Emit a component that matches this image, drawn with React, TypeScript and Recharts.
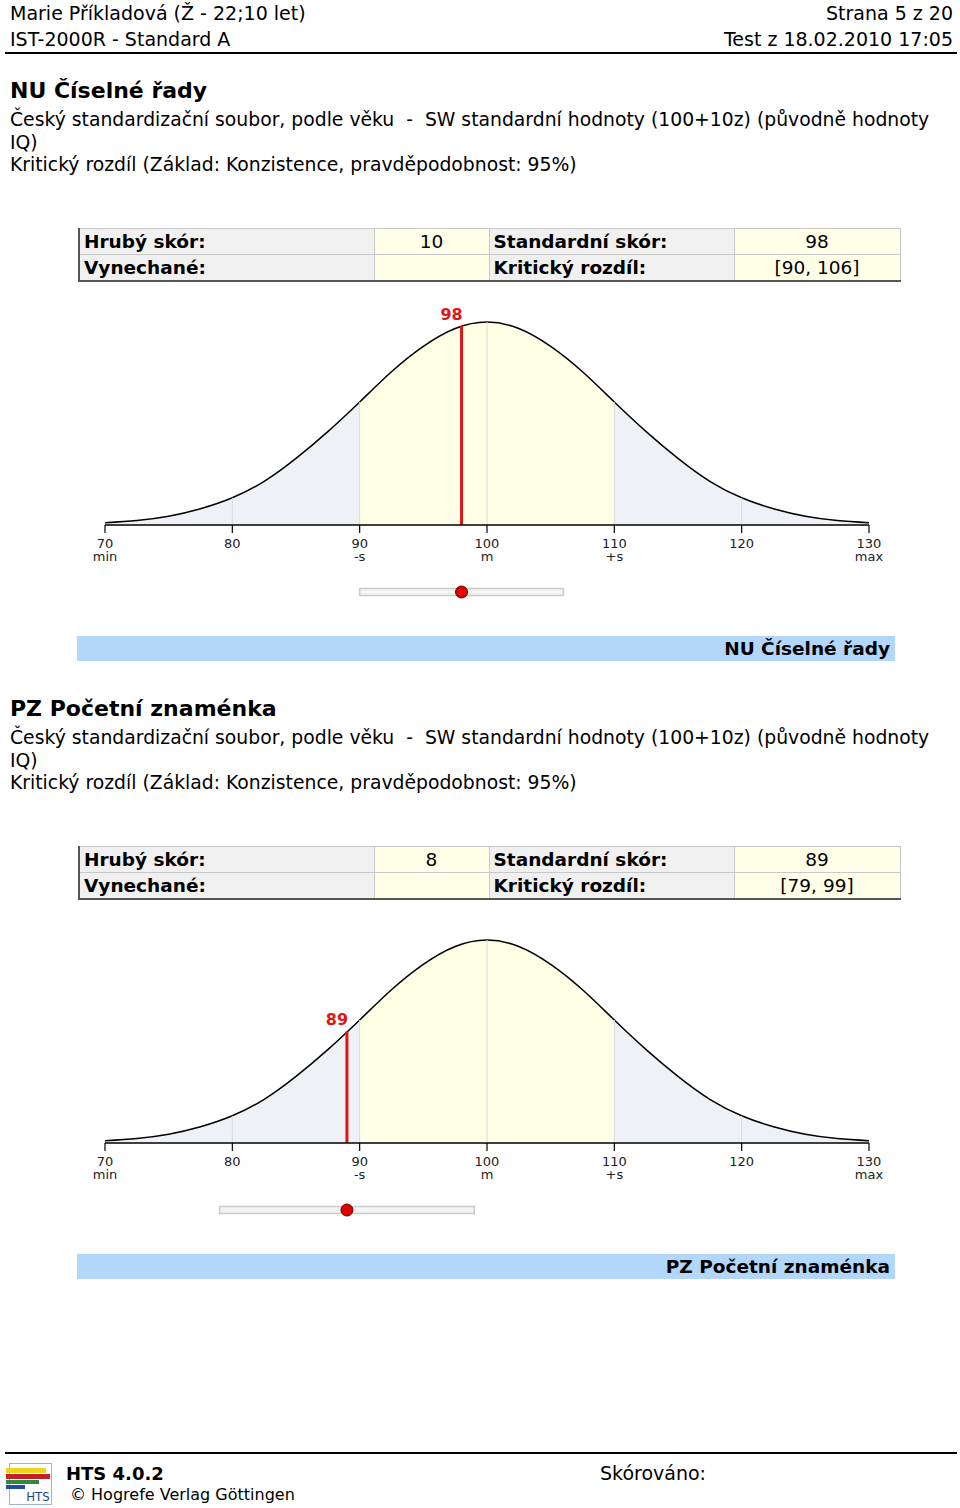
import React from 'react';
import { ComposedChart, Area, Scatter, XAxis, YAxis, ReferenceLine, ReferenceArea } from 'recharts';

const FONT = '"DejaVu Sans", Verdana, sans-serif';

// ---- data ----
const curveX = [70, 72.5, 75, 77.5, 80, 82.5, 85, 87.5, 90, 92.5, 95, 97.5, 100, 102.5, 105, 107.5, 110, 112.5, 115, 117.5, 120, 122.5, 125, 127.5, 130];
const curveHeights = [0.011, 0.022, 0.043, 0.08, 0.134, 0.215, 0.328, 0.46, 0.606, 0.755, 0.88, 0.968, 1.0, 0.968, 0.88, 0.755, 0.606, 0.46, 0.328, 0.215, 0.134, 0.08, 0.043, 0.022, 0.011];
const axisTicks = [70, 80, 90, 100, 110, 120, 130];
const axisSubLabels = ['min', '', '-s', 'm', '+s', '', 'max'];
const gridLineXs = [80, 90, 100, 110, 120];
const bandLow = 90;
const bandHigh = 110;

const sectionTitles = ['NU Číselné řady', 'PZ Početní znaménka'];
const rawScores = ['10', '8'];
const standardScores = [98, 89];
const scoreCurveTops = [0.98, 0.55];
const criticalLow = [90, 79];
const criticalHigh = [106, 99];

const subtitleLines = [
  'Český standardizační soubor, podle věku  -  SW standardní hodnoty (100+10z) (původně hodnoty',
  'IQ)',
  'Kritický rozdíl (Základ: Konzistence, pravděpodobnost: 95%)',
];

const curveData = curveX.map((x, i) => ({ x, h: curveHeights[i] }));
const xMin = curveX[0];
const xMax = curveX[curveX.length - 1];
function heightAt(x: number) {
  const i = curveX.indexOf(x);
  return i >= 0 ? curveHeights[i] : 0;
}

const CHART_MARGIN = { top: 32, right: 91, bottom: 15, left: 105 };
const RED = '#e01515';

const AxisTick = (props: any) => {
  const { x, y, payload, index } = props;
  const i = axisTicks.indexOf(payload.value);
  const sub = axisSubLabels[i >= 0 ? i : index] || '';
  return (
    <text x={x} y={y} textAnchor="middle" fontFamily={FONT} fontSize={13} fill="#222">
      <tspan x={x} dy={13}>{payload.value}</tspan>
      {sub ? <tspan x={x} dy={12.5}>{sub}</tspan> : null}
    </text>
  );
};

function BellChart({ idx, top }: { idx: number; top: number }) {
  const score = standardScores[idx];
  const gid = `bandFill${idx}`;
  const f1 = (bandLow - xMin) / (xMax - xMin);
  const f2 = (bandHigh - xMin) / (xMax - xMin);
  return (
    <div style={{ position: 'absolute', left: 0, top, width: 960, height: 290 }}>
      <ComposedChart width={960} height={290} data={curveData} margin={CHART_MARGIN}>
        <defs>
          <linearGradient id={gid} x1="0" y1="0" x2="1" y2="0">
            <stop offset={0} stopColor="#eef2f7" />
            <stop offset={f1} stopColor="#eef2f7" />
            <stop offset={f1} stopColor="#ffffe6" />
            <stop offset={f2} stopColor="#ffffe6" />
            <stop offset={f2} stopColor="#eef2f7" />
            <stop offset={1} stopColor="#eef2f7" />
          </linearGradient>
        </defs>
        <XAxis
          dataKey="x"
          type="number"
          domain={[xMin, xMax]}
          ticks={axisTicks}
          interval={0}
          tick={<AxisTick />}
          tickSize={8}
          tickMargin={2}
          height={40}
          axisLine={{ stroke: '#000', strokeWidth: 1.5 }}
          tickLine={{ stroke: '#000', strokeWidth: 1.2 }}
        />
        <YAxis type="number" domain={[0, 1]} hide />
        <Area
          dataKey="h"
          type="natural"
          stroke="#000"
          strokeWidth={1.5}
          fill={`url(#${gid})`}
          fillOpacity={1}
          dot={false}
          activeDot={false}
          isAnimationActive={false}
        />
        {gridLineXs.map((gx) => (
          <ReferenceLine
            key={gx}
            segment={[{ x: gx, y: 0 }, { x: gx, y: heightAt(gx) }]}
            stroke="#d9d9d9"
            strokeWidth={1}
          />
        ))}
        <ReferenceLine
          segment={[{ x: score, y: 0 }, { x: score, y: scoreCurveTops[idx] }]}
          stroke={RED}
          strokeWidth={3}
          label={(p: any) => {
            const vb = p.viewBox || {};
            return (
              <text
                x={(vb.x ?? 0) - 10}
                y={(vb.y ?? 0) - 6}
                textAnchor="middle"
                fontFamily={FONT}
                fontSize={16}
                fontWeight="bold"
                fill={RED}
              >
                {score}
              </text>
            );
          }}
        />
      </ComposedChart>
    </div>
  );
}

const SliderDot = (p: any) => (
  <circle cx={p.cx} cy={p.cy} r={6} fill="#e00000" stroke="#6a0000" strokeWidth={1} />
);

function SliderChart({ idx, top }: { idx: number; top: number }) {
  const score = standardScores[idx];
  return (
    <div style={{ position: 'absolute', left: 0, top, width: 960, height: 20 }}>
      <ComposedChart
        width={960}
        height={20}
        margin={{ top: 0, right: CHART_MARGIN.right, bottom: 0, left: CHART_MARGIN.left }}
      >
        <XAxis dataKey="x" type="number" domain={[xMin, xMax]} hide allowDataOverflow />
        <YAxis dataKey="y" type="number" domain={[0, 1]} hide allowDataOverflow />
        <ReferenceArea
          x1={criticalLow[idx]}
          x2={criticalHigh[idx]}
          y1={0.325}
          y2={0.675}
          fill="#f4f4f4"
          fillOpacity={1}
          stroke="#c9c9c9"
          strokeWidth={1.5}
          ifOverflow="visible"
        />
        <Scatter data={[{ x: score, y: 0.5 }]} dataKey="y" shape={<SliderDot />} isAnimationActive={false} />
      </ComposedChart>
    </div>
  );
}

const abs = (style: React.CSSProperties): React.CSSProperties => ({ position: 'absolute', fontFamily: FONT, color: '#000', ...style });

function ScoreTable({ idx, top }: { idx: number; top: number }) {
  const labelCell: React.CSSProperties = {
    background: '#f0f0f0',
    border: '1px solid #c8c8c8',
    fontWeight: 'bold',
    padding: '0 0 0 4px',
    height: 25,
    whiteSpace: 'nowrap',
  };
  const valueCell: React.CSSProperties = {
    background: '#fffee6',
    border: '1px solid #c8c8c8',
    textAlign: 'center',
    padding: 0,
    height: 25,
    whiteSpace: 'nowrap',
  };
  return (
    <table
      style={{
        position: 'absolute',
        left: 78,
        top,
        width: 821,
        borderCollapse: 'collapse',
        tableLayout: 'fixed',
        fontFamily: FONT,
        fontSize: 18.5,
        lineHeight: '25px',
        borderTop: '1px solid #999',
        borderLeft: '2px solid #555',
        borderBottom: '2px solid #555',
        borderRight: '1px solid #aaa',
      }}
    >
      <colgroup>
        <col style={{ width: 295 }} />
        <col style={{ width: 115 }} />
        <col style={{ width: 245 }} />
        <col style={{ width: 166 }} />
      </colgroup>
      <tbody>
        <tr>
          <td style={labelCell}>Hrubý skór:</td>
          <td style={valueCell}>{rawScores[idx]}</td>
          <td style={labelCell}>Standardní skór:</td>
          <td style={valueCell}>{standardScores[idx]}</td>
        </tr>
        <tr>
          <td style={labelCell}>Vynechané:</td>
          <td style={valueCell}></td>
          <td style={labelCell}>Kritický rozdíl:</td>
          <td style={valueCell}>{`[${criticalLow[idx]}, ${criticalHigh[idx]}]`}</td>
        </tr>
      </tbody>
    </table>
  );
}

function Section({ idx, offset }: { idx: number; offset: number }) {
  return (
    <>
      <div style={abs({ left: 10, top: 78 + offset, fontSize: 22, fontWeight: 'bold', lineHeight: '26px', whiteSpace: 'nowrap' })}>
        {sectionTitles[idx]}
      </div>
      {subtitleLines.map((line, i) => (
        <div
          key={i}
          style={abs({ left: 10, top: 109 + offset + i * 22.5, fontSize: 18.8, lineHeight: '22.5px', whiteSpace: 'pre' })}
        >
          {line}
        </div>
      ))}
      <ScoreTable idx={idx} top={228 + offset} />
      <BellChart idx={idx} top={290 + offset} />
      <SliderChart idx={idx} top={582 + offset} />
      <div
        style={abs({
          left: 77,
          top: 636 + offset,
          width: 818,
          height: 25,
          background: '#b3d7fa',
          fontSize: 18.5,
          fontWeight: 'bold',
          lineHeight: '25px',
          textAlign: 'right',
          paddingRight: 5,
          boxSizing: 'border-box',
          whiteSpace: 'nowrap',
        })}
      >
        {sectionTitles[idx]}
      </div>
    </>
  );
}

function Logo() {
  return (
    <div style={{ position: 'absolute', left: 0, top: 1460, width: 60, height: 48 }}>
      <div style={{ position: 'absolute', left: 9, top: 3, width: 43, height: 42, border: '1px solid #9db4cf', boxSizing: 'border-box' }} />
      <div style={{ position: 'absolute', left: 6, top: 8, width: 40, height: 5, background: '#f2d31b' }} />
      <div style={{ position: 'absolute', left: 6, top: 14, width: 44, height: 5, background: '#c4202c' }} />
      <div style={{ position: 'absolute', left: 6, top: 20, width: 33, height: 4, background: '#2e8b3e' }} />
      <div style={{ position: 'absolute', left: 6, top: 25, width: 19, height: 4, background: '#1f4f9c' }} />
      <div
        style={{
          position: 'absolute',
          left: 24,
          top: 29,
          width: 28,
          fontFamily: '"DejaVu Sans Condensed", "DejaVu Sans", sans-serif',
          fontSize: 13,
          lineHeight: '15px',
          color: '#1a3f8f',
          textAlign: 'center',
        }}
      >
        HTS
      </div>
    </div>
  );
}

export default function App() {
  return (
    <div style={{ position: 'absolute', left: 0, top: 0, width: 960, height: 1508, background: '#fff', overflow: 'hidden' }}>
      <div style={abs({ left: 10, top: 0, fontSize: 19, lineHeight: '26px', whiteSpace: 'nowrap' })}>Marie Příkladová (Ž - 22;10 let)</div>
      <div style={abs({ left: 10, top: 26, fontSize: 19, lineHeight: '26px', whiteSpace: 'nowrap' })}>IST-2000R - Standard A</div>
      <div style={abs({ right: 7, top: 0, fontSize: 19, lineHeight: '26px', whiteSpace: 'nowrap', textAlign: 'right' })}>Strana 5 z 20</div>
      <div style={abs({ right: 7, top: 26, fontSize: 19, lineHeight: '26px', whiteSpace: 'nowrap', textAlign: 'right' })}>Test z 18.02.2010 17:05</div>
      <div style={{ position: 'absolute', left: 5, top: 52, width: 952, height: 2, background: '#000' }} />

      <Section idx={0} offset={0} />
      <Section idx={1} offset={618} />

      <div style={{ position: 'absolute', left: 5, top: 1452, width: 952, height: 2, background: '#000' }} />
      <Logo />
      <div style={abs({ left: 66, top: 1462, fontSize: 18, fontWeight: 'bold', lineHeight: '24px', whiteSpace: 'nowrap' })}>HTS 4.0.2</div>
      <div style={abs({ left: 70, top: 1484, fontSize: 16, lineHeight: '22px', whiteSpace: 'nowrap' })}>© Hogrefe Verlag Göttingen</div>
      <div style={abs({ left: 600, top: 1461, fontSize: 19, lineHeight: '24px', whiteSpace: 'nowrap' })}>Skórováno:</div>
    </div>
  );
}
